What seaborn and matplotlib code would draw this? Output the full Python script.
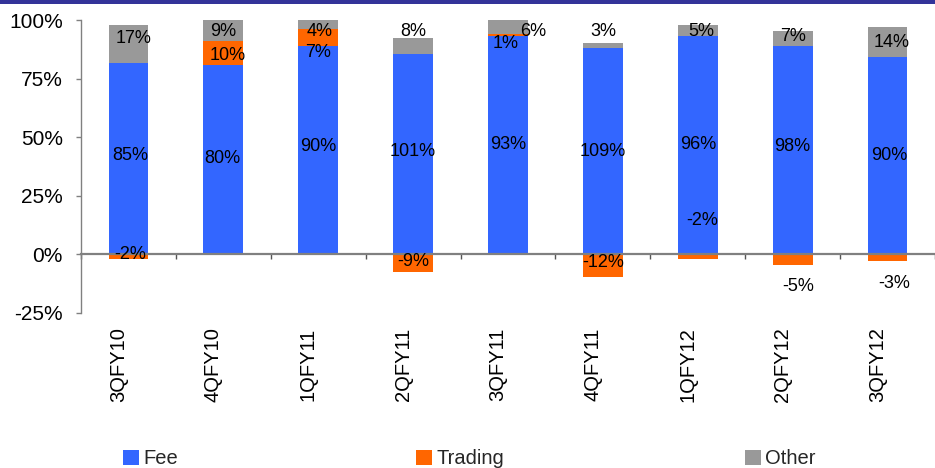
import numpy as np
import pandas as pd
import matplotlib
matplotlib.use("Agg")
import matplotlib.pyplot as plt
import matplotlib.transforms as mtransforms
from matplotlib.patches import Patch, Rectangle
import seaborn as sns

# Revenue mix by quarter (% of total revenue)
quarters = ["3QFY10", "4QFY10", "1QFY11", "2QFY11", "3QFY11",
            "4QFY11", "1QFY12", "2QFY12", "3QFY12"]
fee = [85, 80, 90, 101, 93, 109, 96, 98, 90]
trading = [-2, 10, 7, -9, 1, -12, -2, -5, -3]
other = [17, 9, 4, 8, 6, 3, 5, 7, 14]

# Where each data label sits (axis %) and small sideways nudges (category units)
fee_label_y = [42, 41, 46, 44, 47, 44, 47, 46, 42]
trading_label_y = [0, 85, 86, -3, 90, -3.5, 14.5, -13.5, -12.5]
other_label_y = [92, 95, 95, 95, 95, 95, 95, 93, 90.5]
fee_label_dx = [0.02, -0.01, 0, 0, 0, 0, 0.01, 0, 0.02]
trading_label_dx = [0.02, 0.05, 0, 0, -0.02, 0, 0.05, 0.06, 0.07]
other_label_dx = [0.05, 0, 0.02, 0, 0.27, 0, 0.04, 0, 0.04]

BLUE = "#3366FF"
ORANGE = "#FF6600"
GREY = "#999999"
AXIS_GREY = "#808080"

sns.set_theme(style="white")
plt.rcParams["font.family"] = ["Liberation Sans", "DejaVu Sans"]

df = pd.DataFrame({"quarter": quarters, "Fee": fee, "Trading": trading, "Other": other})

# 100% stacked columns: each component is scaled by the sum of absolute values
scale = df[["Fee", "Trading", "Other"]].abs().sum(axis=1) / 100.0
df["fee_h"] = df["Fee"] / scale
df["trd_h"] = df["Trading"] / scale
df["oth_h"] = df["Other"] / scale
df["trd_bottom"] = np.where(df["trd_h"] > 0, df["fee_h"], 0.0)
df["oth_bottom"] = df["fee_h"] + df["trd_h"].clip(lower=0)

W, H = 935, 468
fig = plt.figure(figsize=(W / 100, H / 100), dpi=100)
ax = fig.add_axes([81 / W, 1 - 313 / H, (W - 81) / W, 293 / H])

bar_kw = dict(x="quarter", width=0.42, saturation=1, errorbar=None,
              linewidth=0, edgecolor="none", ax=ax)
sns.barplot(data=df, y="fee_h", color=BLUE, **bar_kw)
sns.barplot(data=df, y="trd_h", color=ORANGE,
            bottom=df["trd_bottom"].to_numpy(), **bar_kw)
sns.barplot(data=df, y="oth_h", color=GREY,
            bottom=df["oth_bottom"].to_numpy(), **bar_kw)

# Data labels show the reported (unscaled) percentages
for i in range(len(quarters)):
    ax.text(i + fee_label_dx[i], fee_label_y[i], f"{fee[i]}%",
            ha="center", va="center", fontsize=13, color="black", zorder=5)
    ax.text(i + trading_label_dx[i], trading_label_y[i], f"{trading[i]}%",
            ha="center", va="center", fontsize=13, color="black", zorder=5)
    ax.text(i + other_label_dx[i], other_label_y[i], f"{other[i]}%",
            ha="center", va="center", fontsize=13, color="black", zorder=5)

ax.set_xlim(-0.5, len(quarters) - 0.5)
ax.set_ylim(-25, 100)
ax.set_xlabel("")
ax.set_ylabel("")

# Axes styling
for side in ("top", "right"):
    ax.spines[side].set_visible(False)
ax.spines["left"].set_color(AXIS_GREY)
ax.spines["left"].set_linewidth(1.0)
ax.spines["bottom"].set_position(("data", 0))
ax.spines["bottom"].set_color(AXIS_GREY)
ax.spines["bottom"].set_linewidth(1.6)
ax.spines["bottom"].set_zorder(4)

yt = [-25, 0, 25, 50, 75, 100]
ax.set_yticks(yt)
ax.set_yticklabels([f"{v}%" for v in yt])
ax.tick_params(axis="y", left=True, direction="out", length=3.6, width=1,
               color=AXIS_GREY, pad=9.5, labelsize=15, labelcolor="black")

ax.set_xticks(range(len(quarters)))
ax.set_xticklabels(quarters, rotation=90)
ax.set_xticks(np.arange(-0.5, len(quarters)), minor=True)
ax.tick_params(axis="x", which="major", bottom=True, length=0, pad=52.5,
               labelsize=14.5, labelcolor="black")
ax.tick_params(axis="x", which="minor", bottom=True, direction="out",
               length=3.8, width=1, color="#555555")
shift = mtransforms.ScaledTranslation(-10 / 100, 0, fig.dpi_scale_trans)
for lbl in ax.get_xticklabels():
    lbl.set_transform(lbl.get_transform() + shift)
ax.grid(False)

# Dark band across the top of the slide
fig.patches.append(Rectangle((0, 1 - 4 / H), 1, 4 / H, transform=fig.transFigure,
                             facecolor="#333399", edgecolor="none", zorder=10))

# Legend: one entry per series, spread along the bottom
for name, col, xpx in (("Fee", BLUE, 123), ("Trading", ORANGE, 416), ("Other", GREY, 745)):
    fig.legend(handles=[Patch(facecolor=col, edgecolor="none", label=name)],
               loc="center left", bbox_to_anchor=(xpx / W, 1 - 459 / H),
               frameon=False, fontsize=14.5, handlelength=0.8, handleheight=0.8,
               handletextpad=0.2, borderpad=0, borderaxespad=0)

fig.savefig("out.png", dpi=100)
